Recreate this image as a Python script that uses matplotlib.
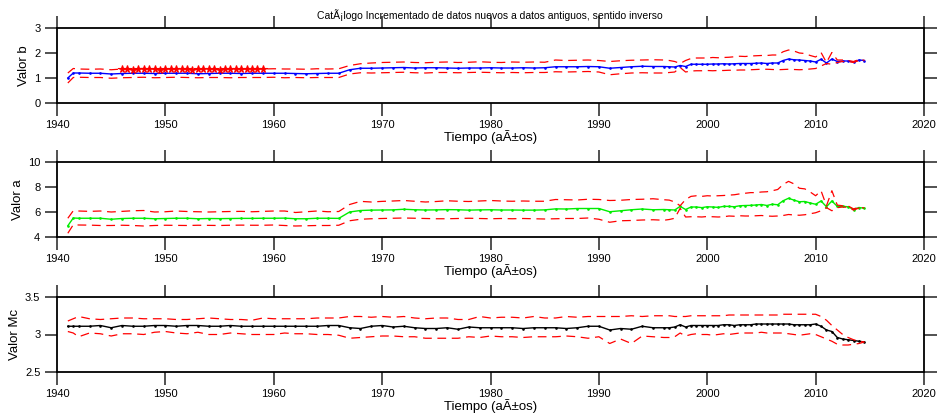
import numpy as np
import matplotlib
matplotlib.use("Agg")
import matplotlib.pyplot as plt

plt.rcParams['font.family'] = ['Liberation Sans', 'DejaVu Sans']

# anios: 1941, 1941.5, luego anual hasta 1996 y cada medio anio hasta 2014.5
anios = np.concatenate([[1941, 1941.5], np.arange(1942, 1997), np.arange(1996.5, 2014.6, 0.5)])

valor_b = [1.00, 1.20,
    1.20, 1.19, 1.19, 1.16, 1.18, 1.19, 1.19, 1.18, 1.19, 1.19,
    1.19, 1.17, 1.18, 1.19, 1.19, 1.18, 1.19, 1.19, 1.19, 1.19,
    1.18, 1.17, 1.18, 1.19, 1.19,
    1.33, 1.39, 1.39, 1.40, 1.41, 1.42, 1.40, 1.41, 1.41, 1.40,
    1.39, 1.40, 1.40, 1.41, 1.40, 1.40, 1.41, 1.40, 1.41,
    1.45, 1.45, 1.45, 1.46, 1.45, 1.39, 1.42, 1.45, 1.47, 1.46, 1.46,
    1.45, 1.44, 1.50, 1.46, 1.55, 1.55, 1.55, 1.55, 1.56, 1.56,
    1.57, 1.56, 1.57, 1.58, 1.58, 1.58, 1.59, 1.60, 1.58, 1.60,
    1.60, 1.70, 1.76, 1.73, 1.72, 1.70, 1.68, 1.64, 1.75, 1.60,
    1.76, 1.66, 1.68, 1.68, 1.64, 1.72, 1.70]
b_sup = [1.20, 1.38,
    1.36, 1.35, 1.36, 1.33, 1.36, 1.37, 1.38, 1.35, 1.36, 1.37,
    1.36, 1.35, 1.36, 1.37, 1.36, 1.36, 1.37, 1.36, 1.37, 1.36,
    1.36, 1.35, 1.37, 1.36, 1.37,
    1.50, 1.57, 1.60, 1.62, 1.63, 1.64, 1.62, 1.61, 1.63, 1.64,
    1.62, 1.63, 1.65, 1.63, 1.62, 1.64, 1.63, 1.64, 1.63,
    1.72, 1.70, 1.71, 1.72, 1.70, 1.66, 1.69, 1.71, 1.72, 1.73, 1.72,
    1.70, 1.66, 1.58, 1.70, 1.78, 1.80, 1.80, 1.80, 1.82, 1.81,
    1.82, 1.83, 1.85, 1.87, 1.86, 1.88, 1.89, 1.90, 1.90, 1.92,
    1.92, 2.05, 2.12, 2.08, 2.00, 1.98, 1.90, 1.84, 2.02, 1.62,
    2.02, 1.72, 1.72, 1.70, 1.66, 1.74, 1.71]
b_inf = [0.80, 1.02,
    1.03, 1.02, 1.02, 0.99, 1.01, 1.02, 1.03, 1.01, 1.02, 1.03,
    1.02, 1.01, 1.02, 1.02, 1.01, 1.02, 1.02, 1.02, 1.03, 1.01,
    1.02, 1.01, 1.02, 1.02, 1.02,
    1.16, 1.21, 1.20, 1.21, 1.22, 1.23, 1.21, 1.20, 1.22, 1.22,
    1.21, 1.22, 1.23, 1.22, 1.21, 1.22, 1.21, 1.22, 1.22,
    1.25, 1.24, 1.25, 1.26, 1.24, 1.13, 1.17, 1.20, 1.21, 1.20, 1.20,
    1.22, 1.24, 1.42, 1.24, 1.28, 1.29, 1.29, 1.30, 1.29, 1.30,
    1.30, 1.31, 1.31, 1.32, 1.32, 1.33, 1.34, 1.35, 1.35, 1.34,
    1.33, 1.34, 1.35, 1.34, 1.33, 1.34, 1.36, 1.38, 1.48, 1.58,
    1.55, 1.62, 1.66, 1.66, 1.62, 1.70, 1.69]

anios_estrella = np.arange(1946, 1959.1, 0.5)
b_estrella = [1.36, 1.35, 1.34, 1.36, 1.37, 1.38, 1.35, 1.34, 1.35, 1.36,
    1.37, 1.36, 1.35, 1.34, 1.35, 1.36, 1.37, 1.35, 1.34, 1.36,
    1.37, 1.36, 1.35, 1.36, 1.35, 1.36, 1.36]

valor_a = [4.90, 5.52,
    5.50, 5.50, 5.50, 5.42, 5.48, 5.50, 5.50, 5.46, 5.48, 5.50,
    5.50, 5.46, 5.48, 5.47, 5.48, 5.49, 5.49, 5.50, 5.50, 5.51,
    5.46, 5.46, 5.50, 5.50, 5.49,
    6.00, 6.12, 6.15, 6.16, 6.17, 6.22, 6.18, 6.16, 6.17, 6.19,
    6.18, 6.15, 6.17, 6.18, 6.16, 6.16, 6.15, 6.15, 6.17,
    6.25, 6.24, 6.28, 6.28, 6.28, 6.02, 6.10, 6.18, 6.24, 6.18, 6.20,
    6.18, 6.16, 6.45, 6.20, 6.40, 6.40, 6.35, 6.42, 6.40, 6.37,
    6.45, 6.45, 6.42, 6.50, 6.52, 6.53, 6.56, 6.60, 6.52, 6.62,
    6.58, 6.90, 7.10, 6.95, 6.82, 6.84, 6.72, 6.62, 6.88, 6.42,
    6.88, 6.45, 6.45, 6.42, 6.20, 6.36, 6.30]
a_sup = [5.50, 6.10,
    6.08, 6.05, 6.08, 6.00, 6.05, 6.10, 6.12, 6.00, 6.02, 6.08,
    6.04, 6.02, 6.00, 6.02, 6.04, 6.05, 6.02, 6.05, 6.08, 6.08,
    5.96, 6.02, 6.08, 6.02, 6.04,
    6.60, 6.85, 6.80, 6.85, 6.88, 6.92, 6.86, 6.80, 6.84, 6.90,
    6.86, 6.84, 6.88, 6.92, 6.88, 6.86, 6.88, 6.86, 6.86,
    7.00, 6.98, 6.96, 7.02, 7.00, 6.92, 6.94, 7.00, 7.02, 7.06, 6.98,
    6.95, 6.80, 6.50, 7.00, 7.25, 7.30, 7.25, 7.30, 7.28, 7.30,
    7.32, 7.35, 7.38, 7.45, 7.50, 7.55, 7.55, 7.60, 7.62, 7.70,
    7.80, 8.20, 8.45, 8.25, 7.90, 7.85, 7.60, 7.30, 7.70, 6.50,
    7.70, 6.55, 6.50, 6.48, 6.25, 6.38, 6.32]
a_inf = [4.30, 4.98,
    4.96, 4.95, 4.92, 4.92, 4.94, 4.92, 4.88, 4.92, 4.94, 4.93,
    4.92, 4.94, 4.93, 4.92, 4.94, 4.95, 4.94, 4.94, 4.96, 4.92,
    4.88, 4.90, 4.92, 4.92, 4.94,
    5.30, 5.42, 5.46, 5.48, 5.50, 5.52, 5.50, 5.48, 5.46, 5.46,
    5.48, 5.50, 5.48, 5.46, 5.48, 5.46, 5.48, 5.46, 5.44,
    5.46, 5.48, 5.48, 5.52, 5.42, 5.18, 5.30, 5.32, 5.36, 5.38, 5.34,
    5.40, 5.50, 6.30, 5.60, 5.62, 5.62, 5.60, 5.64, 5.62, 5.60,
    5.62, 5.68, 5.66, 5.70, 5.68, 5.68, 5.70, 5.72, 5.68, 5.66,
    5.68, 5.72, 5.80, 5.76, 5.74, 5.78, 5.86, 5.94, 6.10, 6.35,
    6.10, 6.35, 6.40, 6.38, 6.15, 6.32, 6.28]

valor_mc = [3.11, 3.11,
    3.11, 3.11, 3.12, 3.09, 3.12, 3.11, 3.11, 3.12, 3.12, 3.11,
    3.12, 3.12, 3.11, 3.11, 3.12, 3.11, 3.11, 3.11, 3.11, 3.11,
    3.11, 3.11, 3.11, 3.12, 3.12,
    3.09, 3.08, 3.11, 3.12, 3.10, 3.11, 3.09, 3.08, 3.08, 3.09,
    3.07, 3.10, 3.09, 3.09, 3.09, 3.09, 3.08, 3.09, 3.09,
    3.09, 3.08, 3.09, 3.11, 3.11, 3.06, 3.08, 3.07, 3.11, 3.09, 3.09,
    3.09, 3.10, 3.13, 3.10, 3.12, 3.12, 3.12, 3.12, 3.12, 3.12,
    3.13, 3.13, 3.12, 3.13, 3.13, 3.13, 3.14, 3.14, 3.14, 3.14,
    3.14, 3.14, 3.14, 3.13, 3.13, 3.13, 3.13, 3.14, 3.11, 3.06,
    3.04, 2.96, 2.94, 2.93, 2.92, 2.91, 2.90]
mc_sup = [3.18, 3.21,
    3.24, 3.21, 3.20, 3.21, 3.22, 3.22, 3.21, 3.21, 3.21, 3.20,
    3.20, 3.21, 3.22, 3.21, 3.20, 3.20, 3.19, 3.22, 3.21, 3.21,
    3.21, 3.21, 3.22, 3.22, 3.22,
    3.24, 3.24, 3.23, 3.24, 3.23, 3.24, 3.22, 3.21, 3.22, 3.22,
    3.20, 3.20, 3.24, 3.22, 3.23, 3.23, 3.22, 3.24, 3.22,
    3.22, 3.24, 3.23, 3.24, 3.24, 3.24, 3.24, 3.25, 3.24, 3.25, 3.25,
    3.25, 3.24, 3.24, 3.24, 3.25, 3.25, 3.25, 3.25, 3.25, 3.25,
    3.25, 3.26, 3.26, 3.26, 3.26, 3.26, 3.26, 3.26, 3.26, 3.26,
    3.26, 3.27, 3.27, 3.27, 3.27, 3.27, 3.27, 3.27, 3.24, 3.19,
    3.12, 3.06, 3.00, 2.96, 2.93, 2.91, 2.90]
mc_inf = [3.04, 3.02,
    2.97, 3.02, 3.01, 2.98, 3.01, 3.01, 3.00, 3.03, 3.04, 3.02,
    3.01, 3.03, 3.00, 3.00, 3.02, 3.01, 3.00, 3.00, 3.00, 3.02,
    3.01, 3.01, 3.00, 3.00, 2.99,
    2.95, 2.96, 2.97, 2.98, 2.98, 2.97, 2.97, 2.95, 2.95, 2.95,
    2.95, 2.97, 2.96, 2.98, 2.97, 2.97, 2.96, 2.97, 2.97,
    2.97, 2.98, 2.97, 2.95, 2.97, 2.88, 2.94, 2.88, 2.98, 2.97, 2.96,
    2.96, 2.97, 3.02, 2.98, 3.00, 3.01, 3.00, 3.00, 2.99, 3.00,
    3.01, 3.00, 3.01, 3.02, 3.02, 3.02, 3.02, 3.03, 3.02, 3.02,
    3.02, 3.02, 3.01, 3.00, 2.99, 3.00, 3.01, 3.00, 2.97, 2.94,
    2.91, 2.87, 2.86, 2.86, 2.87, 2.88, 2.90]

paneles = [
    ("Valor b", valor_b, b_sup, b_inf, "#0000ff", (0, 3), [0, 1, 2, 3], ["0", "1", "2", "3"]),
    ("Valor a", valor_a, a_sup, a_inf, "#00ee00", (4, 10), [4, 6, 8, 10], ["4", "6", "8", "10"]),
    ("Valor Mc", valor_mc, mc_sup, mc_inf, "#000000", (2.5, 3.5), [2.5, 3, 3.5], ["2.5", "3", "3.5"]),
]
fondos = [1 - 103 / 417, 1 - 237 / 417, 1 - 372 / 417]

fig = plt.figure(figsize=(9.38, 4.17), dpi=100)
for (nombre, val, sup, inf, color, lim, yt, ytl), fondo in zip(paneles, fondos):
    ax = fig.add_axes([57 / 938, fondo, 867 / 938, 75 / 417])
    ax.plot(anios, val, color=color, lw=1.0, marker='.', ms=1.8)
    ax.plot(anios, sup, color='red', lw=0.9, dashes=(7, 4.5))
    ax.plot(anios, inf, color='red', lw=0.9, dashes=(7, 4.5))
    if nombre == "Valor b":
        ax.plot(anios_estrella, b_estrella, ls='none', marker='*', ms=5.5, color='red', mew=0.8)
    ax.set_xlim(1940, 2020)
    ax.set_ylim(*lim)
    ax.set_xticks(range(1940, 2021, 10))
    ax.set_yticks(yt)
    ax.set_yticklabels(ytl)
    for s in ax.spines.values():
        s.set_linewidth(1.3)
    ax.tick_params(direction='out', length=9, width=1.1, color='#222222',
                   top=True, right=True, labelsize=8, pad=3)
    ax.set_ylabel(nombre, fontsize=9.5, labelpad=3)
    ax.set_xlabel("Tiempo (aÃ±os)", fontsize=9.5, labelpad=0)

fig.text(490 / 938, 1 - 15 / 417, "CatÃ¡logo Incrementado de datos nuevos a datos antiguos, sentido inverso",
         ha='center', va='center', fontsize=7.5)

fig.savefig("out.png", dpi=100)
